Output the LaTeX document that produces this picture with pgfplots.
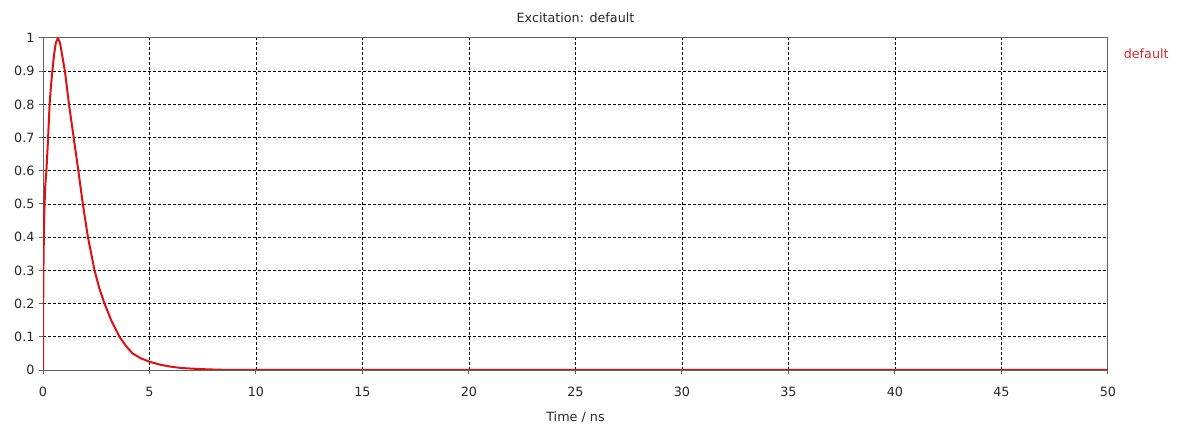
\documentclass[border=0pt]{standalone}
\usepackage{fontspec}
\setmainfont{DejaVu Sans}
\usepackage{pgfplots}
\pgfplotsset{compat=1.18}
\definecolor{curve}{HTML}{E01010}
\definecolor{legtext}{HTML}{D42A2A}
\definecolor{axgray}{HTML}{606060}
\begin{document}
\begin{tikzpicture}
\useasboundingbox (0,0) rectangle (1177bp,425bp);
\begin{axis}[
  at={(43bp,55bp)}, anchor=south west,
  scale only axis, width=1065bp, height=332bp,
  xmin=0, xmax=50, ymin=0, ymax=1,
  xtick={5,10,...,45},
  ytick={0.1,0.2,...,0.91},
  yticklabels={0.1,0.2,0.3,0.4,0.5,0.6,0.7,0.8,0.9},
  extra x ticks={0,50},
  extra y ticks={0,1},
  extra y tick labels={0,1},
  extra tick style={grid=none},
  /pgf/number format/assume math mode=true,
  tick label style={font=\fontsize{12.8}{14}\selectfont, text=black!85},
  xticklabel style={yshift=-10bp},
  yticklabel style={xshift=-1bp},
  label style={font=\fontsize{12.8}{14}\selectfont, text=black!85},
  title style={font=\fontsize{12.8}{14}\selectfont, text=black!85, yshift=6bp},
  title={Excitation: default},
  xlabel={Time / ns},
  xlabel style={yshift=0bp},
  grid=major,
  major grid style={black, dash pattern=on 3bp off 2bp, line width=0.7bp},
  axis line style={axgray, line width=1bp},
  tick style={axgray, line width=1bp},
  tick align=outside, major tick length=4bp,
  xtick pos=bottom, ytick pos=left,
  legend style={at={(1.01,0.95)}, anchor=west, draw=none, fill=none,
    font=\fontsize{12.8}{14}\selectfont, text=legtext},
  legend image code/.code={},
]
\addplot[curve, line width=2bp] coordinates {
(0,0) (0.005,0.15) (0.02,0.3) (0.05,0.45) (0.1,0.55) (0.16,0.6)
(0.24,0.7) (0.31,0.8) (0.38,0.86) (0.44,0.9) (0.52,0.95) (0.6,0.985)
(0.7,1.0) (0.8,0.985) (0.88,0.955) (1.03,0.9) (1.22,0.8) (1.44,0.7)
(1.66,0.6) (1.87,0.5) (2.11,0.4) (2.42,0.3) (2.65,0.245) (2.89,0.2)
(3.2,0.15) (3.59,0.1) (3.9,0.072) (4.2,0.05) (4.6,0.035) (5.0,0.025)
(5.5,0.016) (6.0,0.01) (6.5,0.006) (7.0,0.004) (7.7,0.002) (8.5,0.0005)
(10,0) (50,0)
};
\addlegendentry{default}
\end{axis}
\end{tikzpicture}
\end{document}
